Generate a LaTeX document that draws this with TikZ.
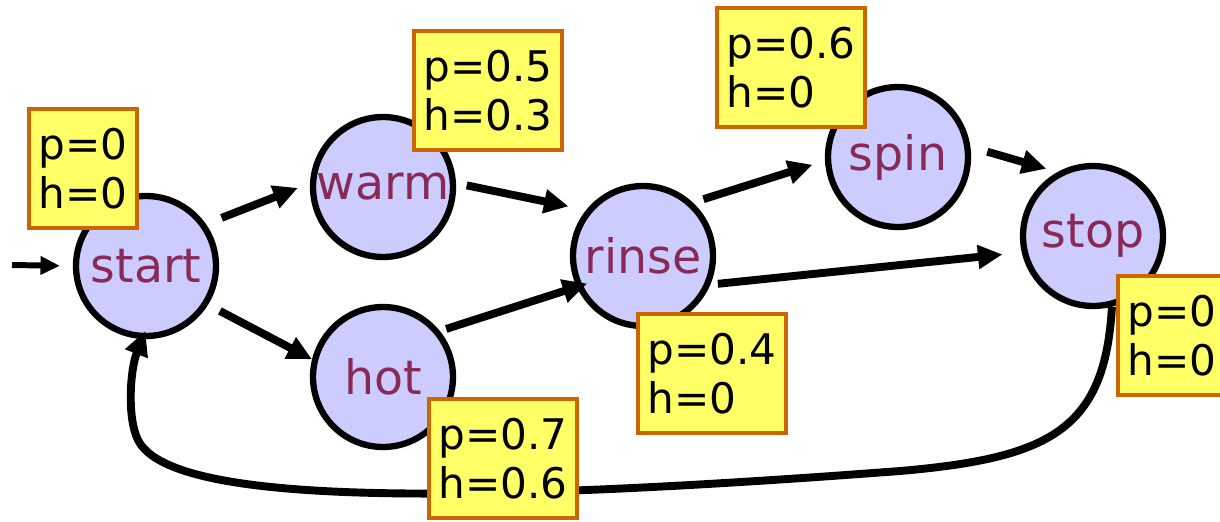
\documentclass[tikz,border=0pt]{standalone}
\usepackage{fontspec}
\setmainfont{DejaVu Sans}
\usetikzlibrary{arrows.meta}
\definecolor{statefill}{RGB}{204,204,255}
\definecolor{statetext}{RGB}{136,42,88}
\definecolor{notefill}{RGB}{255,255,102}
\definecolor{noteline}{RGB}{204,102,0}

\begin{document}
\begin{tikzpicture}[x=0.02cm,y=-0.02cm,
    state/.style={circle,draw,line width=3.6pt,fill=statefill,text=statetext,
      minimum size=2.8cm,inner sep=0pt,font=\fontsize{27}{30}\selectfont},
    note/.style={draw=noteline,line width=2.3pt,fill=notefill,align=left,anchor=north west,
      inner xsep=0.19cm,minimum height=2.38cm,font=\fontsize{24}{28}\selectfont},
    trans/.style={line width=4.5pt,-{Triangle[length=14pt,width=13pt]}}]
    \useasboundingbox (0,0) rectangle (1220,521);
    \node[state] (start) at (146,266) {start};
    \node[state] (warm) at (383,187) {warm};
    \node[state] (hot) at (383,377) {hot};
    \node[state] (rinse) at (643,256) {rinse};
    \node[state] (spin) at (898,157) {spin};
    \node[state] (stop) at (1093,236) {stop};
    \coordinate (entry) at (12,265);
    \draw[line width=3.4pt,-{Triangle[length=11pt,width=10pt]},shorten >=7.4pt] (entry) -- (start.west);
    \draw[trans,shorten <=9.6pt,shorten >=7.4pt] (start.35) -- (warm.177);
    \draw[trans,shorten <=7.6pt,shorten >=0pt] (start.-32) -- (hot.166);
    \draw[trans,shorten <=6.2pt,shorten >=10.2pt] (warm.3) -- (rinse.141);
    \draw[trans,shorten <=3.8pt,shorten >=-6.3pt] (hot.39) -- (rinse.205);
    \draw[trans,shorten <=6.3pt,shorten >=7.4pt] (rinse.47) -- (spin.183);
    \draw[trans,shorten <=10pt,shorten >=6.6pt] (spin.8) -- (stop.119);
    \draw[trans,shorten <=4.3pt,shorten >=11pt] (rinse.-23) -- (stop.193);
    \draw[trans,shorten >=-5pt] (stop.-75) .. controls (1105,430) and (1050,458) .. (900,471)
      .. controls (450,505) and (170,505) .. (138,440)
      .. controls (127,418) and (130,370) .. (start.-93);
    \node[note] (startnote) at (27,107) {p=0\\h=0};
    \node[note] (warmnote) at (412,29) {p=0.5\\h=0.3};
    \node[note] (spinnote) at (715,6) {p=0.6\\h=0};
    \node[note] (rinsenote) at (636,312) {p=0.4\\h=0};
    \node[note] (hotnote) at (427,397) {p=0.7\\h=0.6};
    \node[note] (stopnote) at (1116,274) {p=0\\h=0};
\end{tikzpicture}
\end{document}
